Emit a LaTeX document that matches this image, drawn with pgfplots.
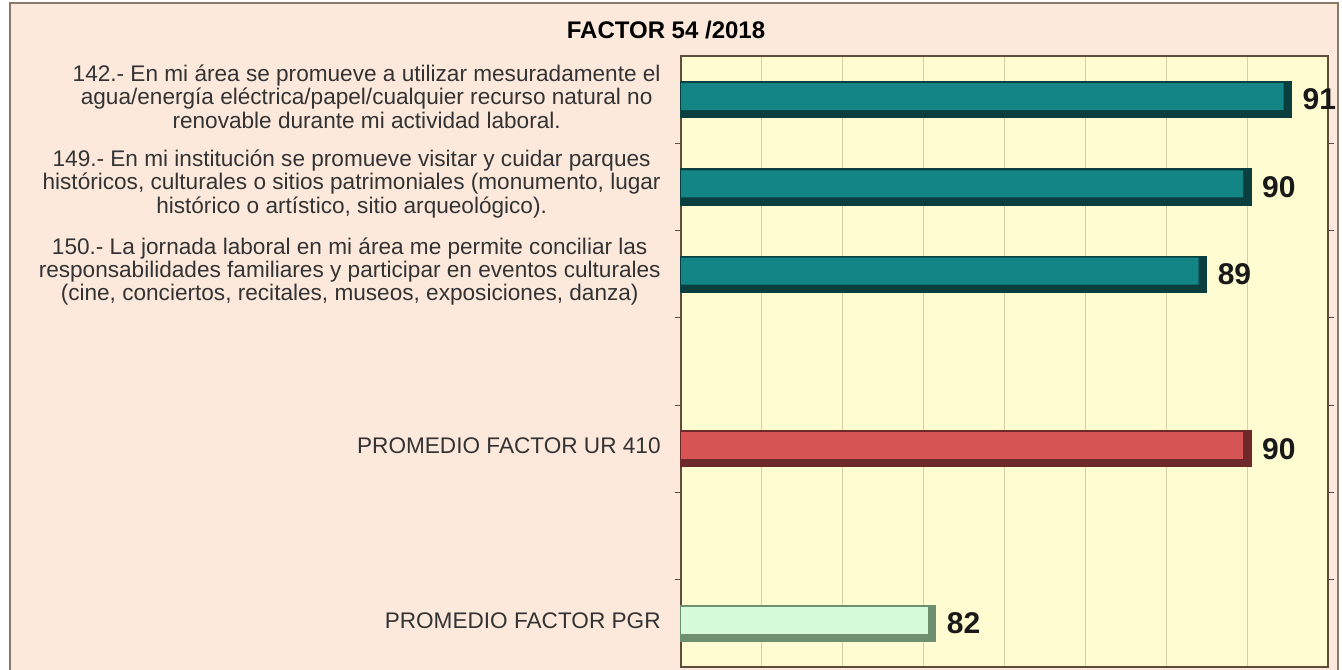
\documentclass[border=0pt]{standalone}
\usepackage{fontspec}
\setmainfont{Liberation Sans}
\usepackage{pgfplots}
\usepackage{pgfplotstable}
\pgfplotsset{compat=1.18}
\definecolor{peach}{HTML}{FCE9DC}
\definecolor{plotbg}{HTML}{FFFCD2}
\definecolor{framec}{HTML}{8A7A6C}
\definecolor{axisc}{HTML}{5E4B3C}
\definecolor{gridc}{HTML}{D9D0A6}
\definecolor{tealm}{HTML}{138585}
\definecolor{teald}{HTML}{0B3F3F}
\definecolor{redm}{HTML}{D65454}
\definecolor{redd}{HTML}{6E2A2A}
\definecolor{greenm}{HTML}{D6FBD8}
\definecolor{greend}{HTML}{6E8F70}
% y = row (0 = top), v = value
\pgfplotstableread{
y v
0 91.1
1 90.1
2 89.0
}\qdata
\pgfplotstableread{
y v
4 90.1
}\urdata
\pgfplotstableread{
y v
6 82.3
}\pgrdata
\begin{document}
\begin{tikzpicture}
\useasboundingbox (0,0) rectangle (671pt,334.5pt);
\fill[white] (0,0) rectangle (671pt,334.5pt);
\filldraw[fill=peach, draw=framec, line width=0.8pt] (5pt,-2pt) rectangle (669pt,333pt);
\node[font=\bfseries\fontsize{12}{14}\selectfont] at (333pt,319.5pt) {FACTOR 54 /2018};
\begin{axis}[
  at={(340.5pt,1pt)}, anchor=south west,
  scale only axis, width=323.5pt, height=305.5pt,
  xmin=0, xmax=16, ymin=-0.5, ymax=6.5, y dir=reverse,
  clip=false,
  /pgf/number format/assume math mode=true,
  axis background/.style={fill=plotbg},
  axis line style={draw=axisc, line width=0.8pt},
  xtick={0,2,...,16}, xticklabels={}, xmajorgrids,
  grid style={draw=gridc, line width=0.5pt},
  xtick style={draw=none},
  ytick={0,1,2,4,6},
  yticklabels={
    {142.- En mi área se promueve a utilizar mesuradamente el\\agua/energía eléctrica/papel/cualquier recurso natural no\\renovable durante mi actividad laboral.},
    {149.- En mi institución se promueve visitar y cuidar parques\\históricos, culturales o sitios patrimoniales (monumento, lugar\\histórico o artístico, sitio arqueológico).},
    {150.- La jornada laboral en mi área me permite conciliar las\\responsabilidades familiares y participar en eventos culturales\\(cine, conciertos, recitales, museos, exposiciones, danza)},
    {PROMEDIO FACTOR UR 410},
    {PROMEDIO FACTOR PGR}},
  yticklabel style={align=center, font=\fontsize{11.3}{11.6}\selectfont, text=black!80, inner sep=0pt, xshift=-10pt, yshift=1.5pt},
  major tick length=0pt,
  minor ytick={0.5,1.5,...,5.5},
  minor tick length=3pt, tick align=outside,
  minor tick style={draw=axisc, line width=0.6pt},
  xbar, bar shift=0pt, bar width=18pt,
  nodes near coords={\pgfmathprintnumber[fixed,precision=0,assume math mode=true]{\pgfplotspointmeta}},
  nodes near coords align=horizontal,
  every node near coord/.append style={font=\bfseries\fontsize{15}{16}\selectfont, anchor=west, xshift=2pt, text=black!90},
]
% teal bars
\addplot[fill=teald, draw=teald, line width=0.6pt, nodes near coords=\empty] table[x expr=\thisrow{v}-76, y=y] {\qdata};
\addplot[fill=tealm, draw=none, bar width=13.5pt, bar shift=1.5pt, nodes near coords=\empty] table[x expr=\thisrow{v}-76.2, y=y] {\qdata};
\addplot[draw=none, fill=none, point meta=\thisrow{v}] table[x expr=\thisrow{v}-76, y=y] {\qdata};
% red
\addplot[fill=redd, draw=redd, line width=0.6pt, nodes near coords=\empty] table[x expr=\thisrow{v}-76, y=y] {\urdata};
\addplot[fill=redm, draw=none, bar width=13.5pt, bar shift=1.5pt, nodes near coords=\empty] table[x expr=\thisrow{v}-76.2, y=y] {\urdata};
\addplot[draw=none, fill=none, point meta=\thisrow{v}] table[x expr=\thisrow{v}-76, y=y] {\urdata};
% green
\addplot[fill=greend, draw=greend, line width=0.6pt, nodes near coords=\empty] table[x expr=\thisrow{v}-76, y=y] {\pgrdata};
\addplot[fill=greenm, draw=none, bar width=13.5pt, bar shift=1.5pt, nodes near coords=\empty] table[x expr=\thisrow{v}-76.2, y=y] {\pgrdata};
\addplot[draw=none, fill=none, point meta=\thisrow{v}] table[x expr=\thisrow{v}-76, y=y] {\pgrdata};
\end{axis}
\end{tikzpicture}
\end{document}
